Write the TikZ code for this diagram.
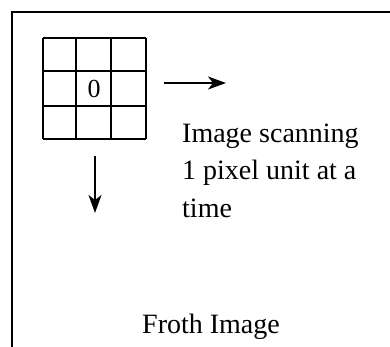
\documentclass[tikz,border=0pt]{standalone}
\usepackage{fontspec}
\setmainfont{Liberation Serif}
\usetikzlibrary{arrows.meta}
\tikzset{
  frameline/.style={line width=1.8pt, black},
  gridline/.style={line width=1.5pt, black},
  scanarrow/.style={line width=1.5pt, -{Stealth[length=18pt,width=13pt,inset=5pt]}},
  label/.style={font=\fontsize{28}{37}\selectfont, inner sep=0pt, align=left},
  cellnum/.style={font=\fontsize{26}{28}\selectfont, inner sep=0pt}
}
\begin{document}
\begin{tikzpicture}[x=1pt,y=-1pt]
\useasboundingbox (0,0) rectangle (390,347);
% outer frame (only top and left edges visible)
\draw[frameline] (12,347) -- (12,12) -- (390,12);
% 3x3 window
\foreach \xx in {43,76,111,146} \draw[gridline] (\xx,38) -- (\xx,139);
\foreach \yy in {38,71,106,139} \draw[gridline] (43,\yy) -- (146,\yy);
\node[cellnum] (zero) at (94,89) {0};
% arrows
\coordinate (rs) at (164,83);
\coordinate (re) at (226,83);
\coordinate (ds) at (95,156);
\coordinate (de) at (95,213);
\draw[scanarrow] (rs) -- (re);
\draw[scanarrow] (ds) -- (de);
% texts
\node[label, anchor=base west] (scan) at (182,217) {Image scanning\\1 pixel unit at a\\time};
\node[label, anchor=base west] (froth) at (142,333) {Froth Image};
\end{tikzpicture}
\end{document}
